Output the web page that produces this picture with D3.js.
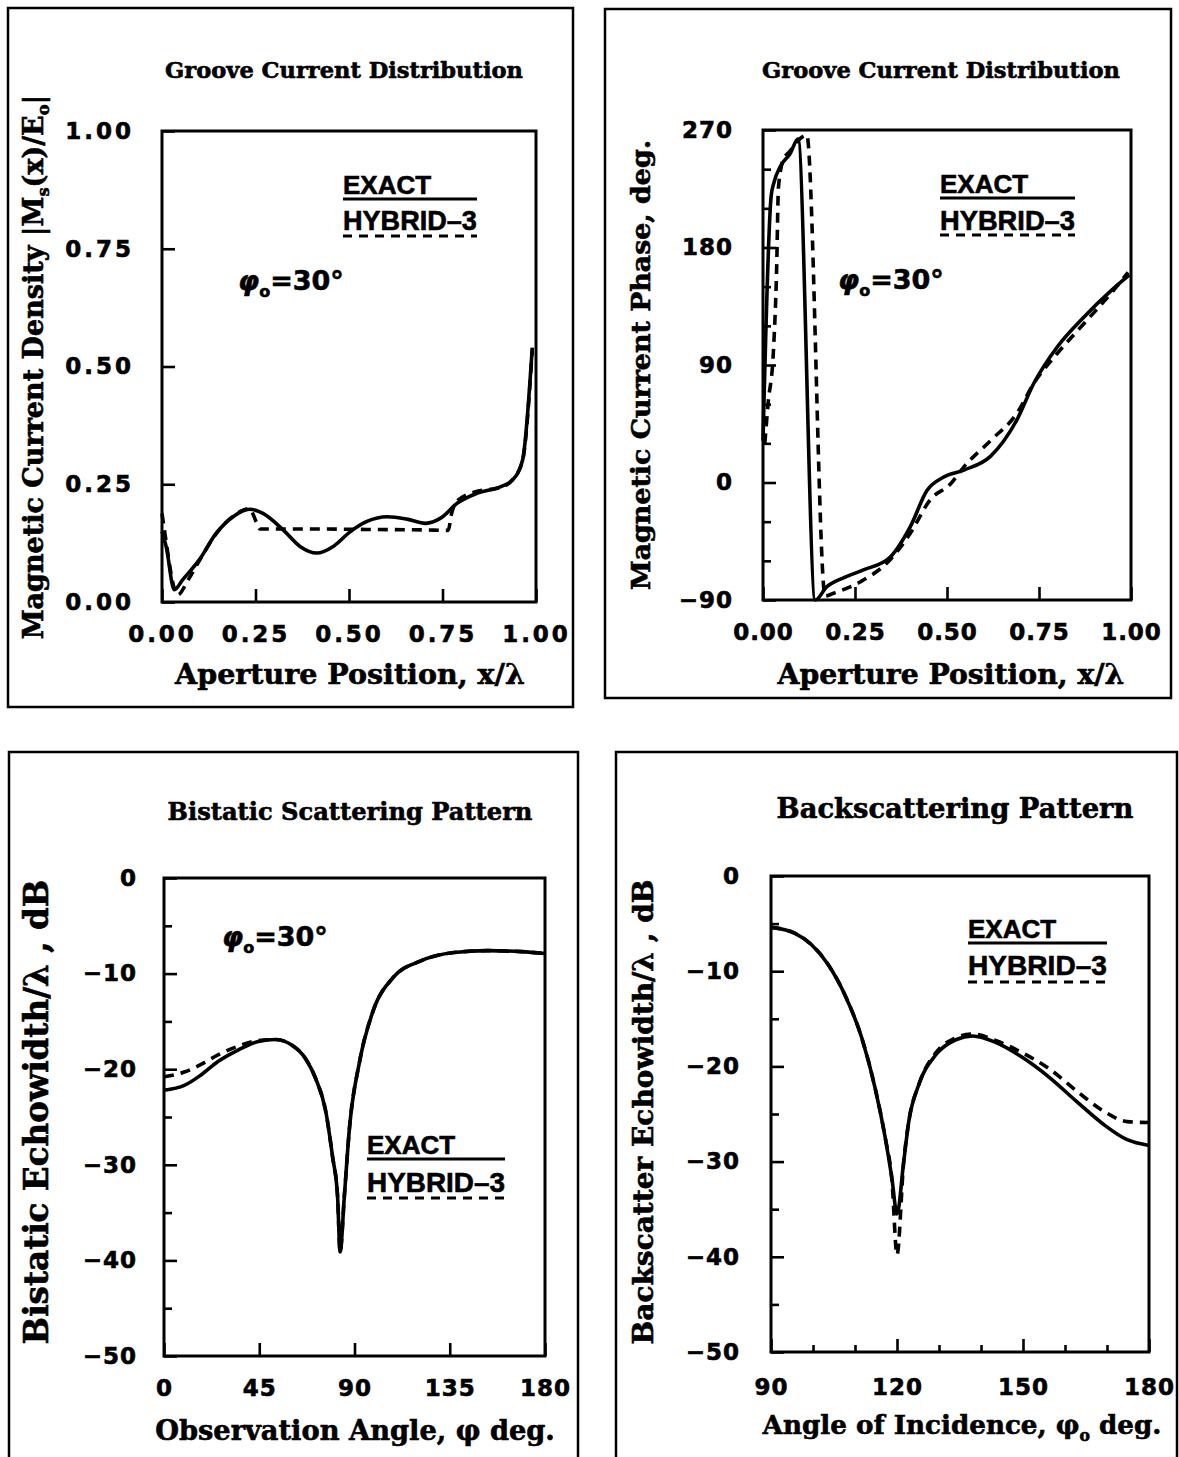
<!DOCTYPE html>
<html>
<head>
<meta charset="utf-8">
<script src="https://cdn.jsdelivr.net/npm/d3@7"></script>
<style>
  html, body { margin: 0; padding: 0; background: #fff; }
  svg { display: block; }
  text { stroke: #000; stroke-width: 0.6px; }
</style>
</head>
<body>
<svg id="chart" width="1179" height="1457"></svg>
<script>
// ---- data ----
// top left: current magnitude along the aperture
const aExactX = [0, 0.011, 0.033, 0.055, 0.10, 0.145, 0.19, 0.234, 0.27, 0.324, 0.369, 0.414, 0.458, 0.503, 0.548, 0.602, 0.655, 0.705, 0.745, 0.79, 0.843, 0.906, 0.937, 0.964, 0.99];
const aExactY = [0.15, 0.118, 0.026, 0.047, 0.09, 0.146, 0.181, 0.197, 0.188, 0.153, 0.118, 0.104, 0.118, 0.149, 0.171, 0.181, 0.176, 0.167, 0.178, 0.21, 0.231, 0.245, 0.259, 0.301, 0.54];
const aHybridX = [0, 0.006, 0.042, 0.07, 0.10, 0.145, 0.19, 0.234, 0.252, 0.262, 0.40, 0.55, 0.70, 0.765, 0.775, 0.79, 0.843, 0.906, 0.937, 0.964, 0.99];
const aHybridY = [0.188, 0.155, 0.015, 0.047, 0.088, 0.145, 0.182, 0.198, 0.17, 0.155, 0.155, 0.154, 0.153, 0.152, 0.19, 0.215, 0.235, 0.243, 0.26, 0.30, 0.535];

// top right: current phase along the aperture (deg)
const bExactX = [0, 0.022, 0.03, 0.047, 0.074, 0.095, 0.142, 0.173, 0.219, 0.273, 0.346, 0.40, 0.446, 0.49, 0.546, 0.618, 0.69, 0.736, 0.80, 0.873, 0.946, 0.996];
const bExactY = [32, 219, 230, 242, 252, 263, -90, -80, -73, -67, -57, -34, -6, 4, 9.5, 20, 48, 76, 104, 127, 147, 159];
const bHybridX = [0.005, 0.014, 0.028, 0.037, 0.042, 0.055, 0.074, 0.092, 0.119, 0.169, 0.19, 0.265, 0.346, 0.40, 0.455, 0.51, 0.546, 0.618, 0.69, 0.736, 0.80, 0.873, 0.946, 0.992];
const bHybridY = [30, 61, 99, 163, 226, 247, 254, 261, 266, -87, -85, -76, -59, -39, -13, -1, 12, 32, 53, 76, 99, 122, 145, 161];

// bottom left: bistatic echowidth (dB) vs observation angle
const cAngle = [0, 9.6, 17.5, 25.5, 35, 44.6, 52.6, 60.5, 66.9, 71.7, 76.5, 79.6, 82, 83.2, 85.2, 87.6, 92.4, 98.8, 108.3, 121, 137, 152.9, 168.8, 180];
const cExact = [-22.2, -21.7, -20.6, -19.2, -18.0, -17.1, -16.9, -17.5, -18.9, -21.0, -24.5, -29.1, -33.3, -39.1, -33.3, -26.2, -19.2, -13.9, -10.4, -8.7, -7.8, -7.6, -7.7, -7.9];
const cHybrid = [-20.8, -20.3, -19.5, -18.5, -17.6, -17.0, -16.9, -17.5, -18.9, -21.0, -24.5, -29.1, -33.3, -39.1, -33.3, -26.2, -19.2, -13.9, -10.4, -8.7, -7.8, -7.6, -7.7, -7.9];

// bottom right: backscatter echowidth (dB) vs incidence angle
const dAngle = [90, 95.6, 99.6, 103.6, 107.6, 111.6, 114.8, 117.2, 118.8, 120, 121.6, 122.8, 125.2, 129.2, 134, 138, 143.6, 150, 156.4, 162.8, 169.2, 174.8, 180];
const dExact = [-5.4, -6.0, -7.2, -9.3, -12.5, -17.0, -22.3, -27.5, -31.8, -35.5, -30.0, -25.8, -21.9, -18.8, -17.2, -16.8, -17.5, -19.1, -21.2, -23.7, -26.1, -27.7, -28.3];
const dHybrid = [-5.4, -6.0, -7.2, -9.3, -12.5, -17.0, -22.3, -27.5, -32.0, -39.8, -30.0, -25.8, -21.9, -18.6, -17.0, -16.6, -17.3, -18.6, -20.3, -22.6, -24.7, -25.8, -25.9];

// ticks
const apertureTicks = [0, 0.25, 0.5, 0.75, 1];
const apertureLabels = ["0.00", "0.25", "0.50", "0.75", "1.00"];
const phaseTicks = [-90, 0, 90, 180, 270];
const phaseLabels = ["\u221290", "0", "90", "180", "270"];
const phaseMinor = [-60, -30, 30, 60, 120, 150, 210, 240];
const dbTicks = [-50, -40, -30, -20, -10, 0];
const dbLabels = ["\u221250", "\u221240", "\u221230", "\u221220", "\u221210", "0"];
const dbMinor = [-45, -35, -25, -15, -5];
const obsTicks = [0, 45, 90, 135, 180];
const obsLabels = ["0", "45", "90", "135", "180"];
const incTicks = [90, 120, 150, 180];
const incLabels = ["90", "120", "150", "180"];
const incMinor = [100, 110, 130, 140, 160, 170];

const zip = (xs, ys) => xs.map((x, i) => [x, ys[i]]);

// ---- drawing ----
const svg = d3.select("#chart");
const SERIF = "'DejaVu Serif', serif";
const SANS = "'DejaVu Sans', sans-serif";
const LEG = "'Liberation Sans', Arial, sans-serif";

function fitWidth(text, target) {
  const w = text.node().getComputedTextLength();
  const fs = parseFloat(text.attr("font-size"));
  text.attr("font-size", fs * target / w);
}

function styleAxis(ag, fs, ls) {
  ag.attr("font-size", null).attr("font-family", null);
  ag.select(".domain").remove();
  ag.selectAll(".tick line").attr("stroke", "#000").attr("stroke-width", 2.6);
  ag.selectAll(".tick text")
    .attr("fill", "#000")
    .style("font-family", SANS)
    .style("font-weight", "bold")
    .style("font-size", fs + "px")
    .style("letter-spacing", ls + "px");
}

function drawPanel(p) {
  const g = svg.append("g");

  g.append("rect")
    .attr("x", p.frame[0]).attr("y", p.frame[1])
    .attr("width", p.frame[2]).attr("height", p.frame[3])
    .attr("fill", "none").attr("stroke", "#000").attr("stroke-width", 2.5);

  const x = d3.scaleLinear().domain(p.xDomain).range([p.plot.left, p.plot.right]);
  const y = d3.scaleLinear().domain(p.yDomain).range([p.plot.bottom, p.plot.top]);

  // minor ticks
  if (p.yMinor) {
    const ag = g.append("g").attr("transform", `translate(${p.plot.left},0)`)
      .call(d3.axisLeft(y).tickValues(p.yMinor).tickFormat("").tickSize(-8));
    styleAxis(ag, 23, 0);
  }
  if (p.xMinor) {
    const ag = g.append("g").attr("transform", `translate(0,${p.plot.bottom})`)
      .call(d3.axisBottom(x).tickValues(p.xMinor).tickFormat("").tickSize(-7));
    styleAxis(ag, 23, 0);
  }

  const ya = g.append("g").attr("transform", `translate(${p.plot.left},0)`)
    .call(d3.axisLeft(y).tickValues(p.yTicks).tickFormat((d, i) => p.yLabels[i])
      .tickSize(-13).tickPadding(p.yPad));
  styleAxis(ya, p.tickFs, p.tickLs);

  const xa = g.append("g").attr("transform", `translate(0,${p.plot.bottom})`)
    .call(d3.axisBottom(x).tickValues(p.xTicks).tickFormat((d, i) => p.xLabels[i])
      .tickSize(-13).tickPadding(p.xPad));
  styleAxis(xa, p.tickFs, p.tickLs);

  // plot box
  g.append("rect")
    .attr("x", p.plot.left).attr("y", p.plot.top)
    .attr("width", p.plot.right - p.plot.left).attr("height", p.plot.bottom - p.plot.top)
    .attr("fill", "none").attr("stroke", "#000").attr("stroke-width", 3);

  const line = d3.line()
    .x(d => x(d[0]))
    .y(d => y(d[1]))
    .curve(d3.curveMonotoneX);

  g.append("path").datum(p.exact)
    .attr("fill", "none").attr("stroke", "#000").attr("stroke-width", 3.6)
    .attr("stroke-linejoin", "round")
    .attr("d", line);
  g.append("path").datum(p.hybrid)
    .attr("fill", "none").attr("stroke", "#000").attr("stroke-width", 3.6)
    .attr("stroke-dasharray", "10,7")
    .attr("d", line);

  // title
  const t = g.append("text")
    .attr("x", p.title.x).attr("y", p.title.y)
    .attr("text-anchor", "middle")
    .attr("font-family", SERIF).attr("font-weight", "bold")
    .attr("font-size", 20)
    .text(p.title.text);
  fitWidth(t, p.title.w);

  // x axis title
  const xt = g.append("text")
    .attr("x", p.xTitle.x).attr("y", p.xTitle.y)
    .attr("text-anchor", "middle")
    .attr("font-family", SERIF).attr("font-weight", "bold")
    .attr("font-size", 24);
  p.xTitle.parts.forEach(part => {
    xt.append("tspan").attr("font-size", part.sub ? "0.6em" : null)
      .attr("dy", part.dy || 0).text(part.t);
  });
  fitWidth(xt, p.xTitle.w);

  // y axis title
  const yt = g.append("text")
    .attr("transform", `translate(${p.yTitle.x},${p.yTitle.y}) rotate(-90)`)
    .attr("text-anchor", "middle")
    .attr("font-family", SERIF).attr("font-weight", "bold")
    .attr("font-size", 22);
  p.yTitle.parts.forEach(part => {
    yt.append("tspan").attr("font-size", part.sub ? "0.6em" : null)
      .attr("dy", part.dy || 0).text(part.t);
  });
  fitWidth(yt, p.yTitle.w);

  // legend
  const L = p.legend;
  g.append("text").attr("x", L.x0).attr("y", L.exY)
    .attr("font-family", LEG).attr("font-weight", "bold").attr("font-size", 26)
    .text("EXACT");
  g.append("line").attr("x1", L.x0).attr("x2", L.x1).attr("y1", L.line1).attr("y2", L.line1)
    .attr("stroke", "#000").attr("stroke-width", 3);
  const hy = g.append("text").attr("x", L.x0).attr("y", L.hyY)
    .attr("font-family", LEG).attr("font-weight", "bold").attr("font-size", 26)
    .text("HYBRID\u20133");
  fitWidth(hy, L.x1 - L.x0);
  g.append("line").attr("x1", L.x0).attr("x2", L.x1).attr("y1", L.line2).attr("y2", L.line2)
    .attr("stroke", "#000").attr("stroke-width", 3).attr("stroke-dasharray", "9,7");

  // incidence annotation
  if (p.phi) {
    const a = g.append("text").attr("x", p.phi.x).attr("y", p.phi.y)
      .attr("font-family", SANS).attr("font-weight", "bold").attr("font-size", 27);
    a.append("tspan").attr("font-style", "italic").text("\u03c6");
    a.append("tspan").attr("font-size", 16).attr("dy", 7).text("o");
    a.append("tspan").attr("dy", -7).text("=30\u00b0");
  }
}

drawPanel({
  frame: [8, 8, 565, 699],
  plot: { left: 162, right: 536, top: 131, bottom: 602 },
  xDomain: [0, 1], yDomain: [0, 1],
  xTicks: apertureTicks, xLabels: apertureLabels,
  yTicks: apertureTicks, yLabels: apertureLabels,
  tickFs: 23, tickLs: 3, yPad: 28, xPad: 24,
  exact: zip(aExactX, aExactY), hybrid: zip(aHybridX, aHybridY),
  title: { text: "Groove Current Distribution", x: 344, y: 78, w: 358 },
  xTitle: { parts: [{ t: "Aperture Position, x/\u03bb" }], x: 350, y: 684, w: 350 },
  yTitle: {
    parts: [{ t: "Magnetic Current Density |M" }, { t: "s", sub: true, dy: 6 },
            { t: "(x)/E", dy: -6 }, { t: "o", sub: true, dy: 6 }, { t: "|", dy: -6 }],
    x: 43, y: 367, w: 545
  },
  legend: { x0: 343, x1: 477, exY: 194, line1: 199, hyY: 230, line2: 236 },
  phi: { x: 238, y: 290 }
});

drawPanel({
  frame: [605, 9, 566, 689],
  plot: { left: 763, right: 1131, top: 130, bottom: 600 },
  xDomain: [0, 1], yDomain: [-90, 270],
  xTicks: apertureTicks, xLabels: apertureLabels,
  yTicks: phaseTicks, yLabels: phaseLabels, yMinor: phaseMinor,
  tickFs: 23, tickLs: 1, yPad: 30, xPad: 24,
  exact: zip(bExactX, bExactY), hybrid: zip(bHybridX, bHybridY),
  title: { text: "Groove Current Distribution", x: 941, y: 78, w: 358 },
  xTitle: { parts: [{ t: "Aperture Position, x/\u03bb" }], x: 951, y: 684, w: 347 },
  yTitle: { parts: [{ t: "Magnetic Current Phase, deg." }], x: 650, y: 365, w: 450 },
  legend: { x0: 940, x1: 1075, exY: 193, line1: 198, hyY: 230, line2: 235 },
  phi: { x: 838, y: 289 }
});

drawPanel({
  frame: [9, 752, 569, 720],
  plot: { left: 164, right: 545, top: 878, bottom: 1356 },
  xDomain: [0, 180], yDomain: [-50, 0],
  xTicks: obsTicks, xLabels: obsLabels,
  yTicks: dbTicks, yLabels: dbLabels, yMinor: dbMinor,
  tickFs: 23, tickLs: 1, yPad: 27, xPad: 24,
  exact: zip(cAngle, cExact), hybrid: zip(cAngle, cHybrid),
  title: { text: "Bistatic Scattering Pattern", x: 350, y: 820, w: 365 },
  xTitle: { parts: [{ t: "Observation Angle, \u03c6  deg." }], x: 355, y: 1440, w: 400 },
  yTitle: { parts: [{ t: "Bistatic Echowidth/\u03bb , dB" }], x: 48, y: 1112, w: 465 },
  legend: { x0: 367, x1: 505, exY: 1154, line1: 1159, hyY: 1192, line2: 1198 },
  phi: { x: 222, y: 946 }
});

drawPanel({
  frame: [616, 752, 561, 720],
  plot: { left: 771, right: 1149, top: 876, bottom: 1352 },
  xDomain: [90, 180], yDomain: [-50, 0],
  xTicks: incTicks, xLabels: incLabels, xMinor: incMinor,
  yTicks: dbTicks, yLabels: dbLabels, yMinor: dbMinor,
  tickFs: 23, tickLs: 1, yPad: 31, xPad: 27,
  exact: zip(dAngle, dExact), hybrid: zip(dAngle, dHybrid),
  title: { text: "Backscattering Pattern", x: 955, y: 818, w: 357 },
  xTitle: {
    parts: [{ t: "Angle of Incidence, \u03c6" }, { t: "o", sub: true, dy: 7 }, { t: " deg.", dy: -7 }],
    x: 962, y: 1434, w: 399
  },
  yTitle: { parts: [{ t: "Backscatter Echowidth/\u03bb , dB" }], x: 653, y: 1112, w: 465 },
  legend: { x0: 968, x1: 1107, exY: 938, line1: 943, hyY: 975, line2: 982 }
});
</script>
</body>
</html>
